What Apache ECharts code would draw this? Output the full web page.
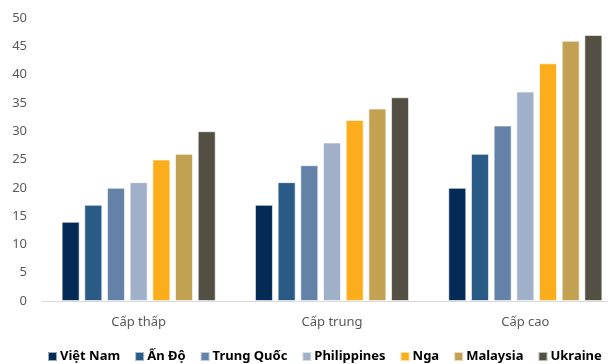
<!DOCTYPE html>
<html>
<head>
    <meta charset="utf-8">
    <style>
        html, body { height: 100%; }
        * { margin: 0; padding: 0; }
        #container { width: 608px; height: 364px; background: #fff; }
    </style>
</head>
<body>
<div id="container"></div>
<script type="text/javascript" src="https://cdn.jsdelivr.net/npm/echarts/dist/echarts.min.js"></script>
<script type="text/javascript">
    let categories = ['Cấp thấp', 'Cấp trung', 'Cấp cao'];
    let seriesNames = ['Việt Nam', 'Ấn Độ', 'Trung Quốc', 'Philippines', 'Nga', 'Malaysia', 'Ukraine'];
    let vietNam = [14, 17, 20];
    let anDo = [17, 21, 26];
    let trungQuoc = [20, 24, 31];
    let philippines = [21, 28, 37];
    let nga = [25, 32, 42];
    let malaysia = [26, 34, 46];
    let ukraine = [30, 36, 47];
    let colors = ['#032b55', '#295b86', '#6482a8', '#a0b0c9', '#fcad1b', '#c3a153', '#544f44'];

    let values = [vietNam, anDo, trungQuoc, philippines, nga, malaysia, ukraine];
    let font = '"Noto Sans", sans-serif';

    let dom = document.getElementById("container");
    let myChart = echarts.init(dom);

    let option = {
        animation: false,
        color: colors,
        grid: { left: 42, width: 580, top: 18, bottom: 63, outerBoundsMode: 'none' },
        legend: {
            bottom: 1,
            left: 47,
            width: 600,
            padding: 0,
            itemWidth: 9,
            itemHeight: 9,
            itemGap: 14,
            icon: 'rect',
            textStyle: { fontFamily: font, fontSize: 13, fontWeight: 'bold', color: '#000', padding: [0, 0, 0, -2] },
            data: seriesNames
        },
        xAxis: {
            type: 'category',
            data: categories,
            axisLine: { lineStyle: { color: '#d9d9d9', width: 1 } },
            axisTick: { show: false },
            axisLabel: { fontFamily: font, fontSize: 13, color: '#595959', margin: 15 }
        },
        yAxis: {
            type: 'value',
            min: 0,
            max: 50,
            interval: 5,
            splitLine: { show: false },
            axisLine: { show: false },
            axisTick: { show: false },
            axisLabel: { fontFamily: font, fontSize: 13, color: '#595959', margin: 15 }
        },
        series: values.map(function (v, i) {
            return {
                name: seriesNames[i],
                type: 'bar',
                data: v,
                barWidth: 18,
                barGap: '26%',
                itemStyle: { borderColor: 'rgba(255,255,255,0.6)', borderWidth: 1 }
            };
        })
    };
    myChart.setOption(option, true);
</script>
</body>
</html>
